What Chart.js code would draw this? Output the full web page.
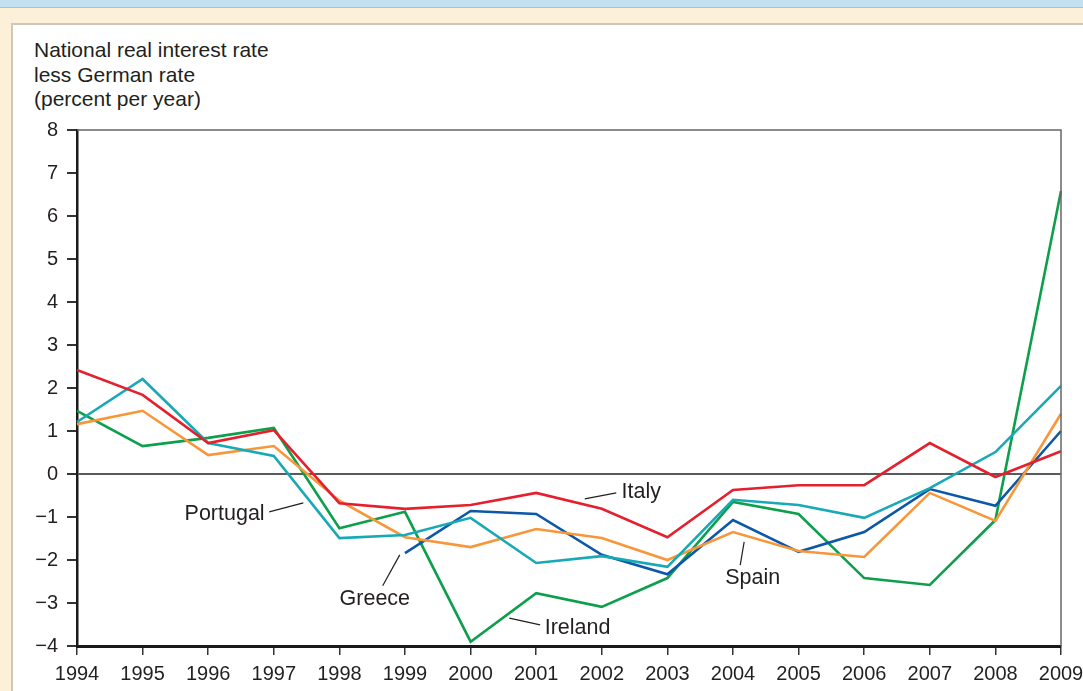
<!DOCTYPE html>
<html>
<head>
<meta charset="utf-8">
<script src="https://cdn.jsdelivr.net/npm/chart.js@4.4.1/dist/chart.umd.min.js"></script>
<style>
  html, body { margin: 0; padding: 0; width: 1083px; height: 691px; overflow: hidden; }
  body { background: #fdf0d9; font-family: "Liberation Sans", Arial, sans-serif; position: relative; }
  #band { position: absolute; left: 0; top: 0; width: 1083px; height: 7px; background: #c2e1ee; border-bottom: 1px solid #9fc4d6; }
  #panel { position: absolute; left: 11px; top: 23px; width: 1090px; height: 700px; background: #fff; border: 2px solid #cfc7b8; }
  #title { position: absolute; left: 34px; top: 38px; font-size: 21px; line-height: 24.5px; color: #231f20; }
  #chart { position: absolute; left: 0; top: 0; }
</style>
</head>
<body>
<div id="band"></div>
<div id="panel"></div>
<div id="title">National real interest rate<br>less German rate<br>(percent per year)</div>
<canvas id="chart" width="1083" height="691"></canvas>
<script>
// years on the x axis
const years = ['1994', '1995', '1996', '1997', '1998', '1999', '2000', '2001',
               '2002', '2003', '2004', '2005', '2006', '2007', '2008', '2009'];

const italy    = [2.42, 1.84, 0.72, 1.02, -0.68, -0.81, -0.72, -0.44, -0.81, -1.47, -0.37, -0.26, -0.26, 0.72, -0.07, 0.53];
const portugal = [1.21, 2.21, 0.72, 0.42, -1.49, -1.42, -1.02, -2.07, -1.91, -2.16, -0.60, -0.72, -1.02, -0.33, 0.51, 2.05];
const spain    = [1.16, 1.47, 0.44, 0.65, -0.62, -1.47, -1.70, -1.28, -1.49, -2.00, -1.35, -1.79, -1.93, -0.44, -1.09, 1.40];
const greece   = [null, null, null, null, null, -1.84, -0.86, -0.93, -1.88, -2.33, -1.07, -1.81, -1.35, -0.35, -0.74, 1.00];
const ireland  = [1.47, 0.65, 0.84, 1.07, -1.26, -0.88, -3.90, -2.77, -3.09, -2.42, -0.65, -0.93, -2.42, -2.58, -1.07, 6.58];

const yTicks = [-4, -3, -2, -1, 0, 1, 2, 3, 4, 5, 6, 7, 8];

// country labels with leader lines, in data units (x = year index)
const callouts = [
  { text: 'Italy',    tx: 8.30, ty: -0.42, align: 'left',   line: [7.74, -0.58, 8.22, -0.44] },
  { text: 'Portugal', tx: 2.86, ty: -0.93, align: 'right',  line: [2.93, -0.88, 3.45, -0.67] },
  { text: 'Greece',   tx: 4.54, ty: -2.91, align: 'center', line: [4.66, -2.60, 4.92, -1.88] },
  { text: 'Ireland',  tx: 7.13, ty: -3.58, align: 'left',   line: [6.59, -3.35, 7.06, -3.51] },
  { text: 'Spain',    tx: 10.3, ty: -2.43, align: 'center', line: [10.11, -2.12, 10.17, -1.58] }
];

const TEXT = '#231f20';
const FAMILY = '"Liberation Sans", Arial, sans-serif';
const TICK_FONT = { family: FAMILY, size: 20 };
const LABEL_SIZE = 21.5;

const frame = {
  id: 'frame',
  afterDraw(chart) {
    const { ctx, chartArea: a } = chart;
    ctx.save();
    ctx.strokeStyle = '#666';
    ctx.lineWidth = 1.5;
    ctx.beginPath();
    ctx.moveTo(a.left, a.top);
    ctx.lineTo(a.right, a.top);
    ctx.lineTo(a.right, a.bottom);
    ctx.stroke();
    ctx.restore();
  }
};

const labels = {
  id: 'labels',
  afterDatasetsDraw(chart) {
    const { ctx, scales: { x, y } } = chart;
    ctx.save();
    ctx.strokeStyle = TEXT;
    ctx.lineWidth = 1.2;
    ctx.fillStyle = TEXT;
    ctx.font = LABEL_SIZE + 'px ' + FAMILY;
    ctx.textBaseline = 'middle';
    callouts.forEach(c => {
      const [x1, y1, x2, y2] = c.line;
      ctx.beginPath();
      ctx.moveTo(x.getPixelForValue(x1), y.getPixelForValue(y1));
      ctx.lineTo(x.getPixelForValue(x2), y.getPixelForValue(y2));
      ctx.stroke();
      ctx.textAlign = c.align;
      ctx.fillText(c.text, x.getPixelForValue(c.tx), y.getPixelForValue(c.ty));
    });
    ctx.restore();
  }
};

function series(label, data, color) {
  return {
    label, data,
    borderColor: color,
    borderWidth: 2.6,
    pointRadius: 0,
    tension: 0,
    fill: false
  };
}

new Chart(document.getElementById('chart'), {
  type: 'line',
  data: {
    labels: years,
    datasets: [
      series('Italy', italy, '#e5202e'),
      series('Portugal', portugal, '#18a9b6'),
      series('Spain', spain, '#f7973a'),
      series('Greece', greece, '#0c58a7'),
      series('Ireland', ireland, '#0e9f4c')
    ]
  },
  options: {
    responsive: false,
    animation: false,
    layout: { padding: { top: 130, right: 22, left: 0, bottom: 0 } },
    plugins: {
      legend: { display: false },
      tooltip: { enabled: false },
      title: { display: false }
    },
    scales: {
      x: {
        type: 'category',
        offset: false,
        grid: { drawOnChartArea: false, tickLength: 9, tickColor: '#333', lineWidth: 1.5 },
        border: { color: '#1a1a1a', width: 3 },
        ticks: { font: TICK_FONT, color: TEXT, padding: 7, maxRotation: 0, autoSkip: false },
        afterFit(s) {
          s.height = 45;
          // let the first/last year labels hang past the plot edges, like the original
          s.paddingLeft = 0;
          s.paddingRight = 0;
        }
      },
      y: {
        min: -4,
        max: 8,
        afterBuildTicks(s) { s.ticks = yTicks.map(v => ({ value: v })); },
        grid: {
          color: c => (c.tick && c.tick.value === 0 ? '#5a5a5a' : 'rgba(0,0,0,0)'),
          lineWidth: 2,
          tickColor: '#333',
          tickLength: 10
        },
        border: { color: '#1a1a1a', width: 2.5 },
        ticks: {
          font: TICK_FONT,
          color: TEXT,
          padding: 9,
          callback: v => (v < 0 ? '\u2212' + Math.abs(v) : String(v))
        },
        afterFit(s) {
          s.width = 77;
          s.paddingTop = 0;
          s.paddingBottom = 0;
        }
      }
    }
  },
  plugins: [frame, labels]
});
</script>
</body>
</html>
